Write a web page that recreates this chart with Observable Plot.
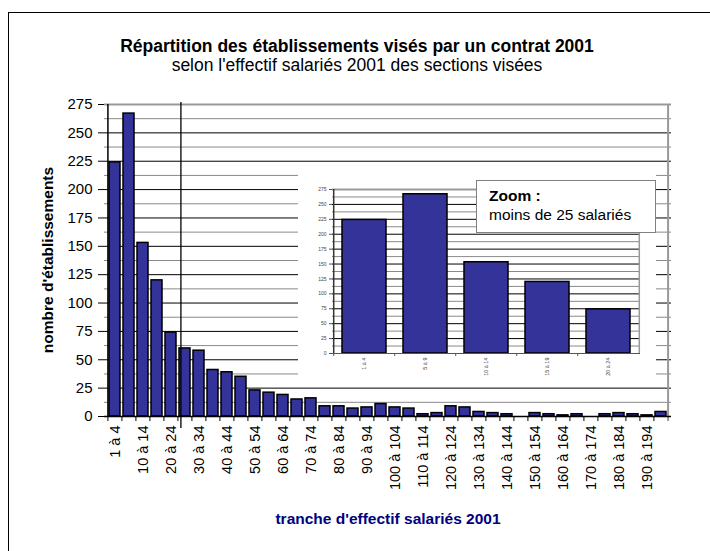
<!DOCTYPE html>
<html>
<head>
<meta charset="utf-8">
<script src="https://cdn.jsdelivr.net/npm/d3@7"></script>
<script src="https://cdn.jsdelivr.net/npm/@observablehq/plot@0.6"></script>
<style>
  html, body { margin: 0; padding: 0; background: #fff; }
  body { width: 710px; height: 551px; position: relative; overflow: hidden; font-family: "Liberation Sans", Arial, sans-serif; }
  #frame { position: absolute; left: 8px; top: 12px; width: 740px; height: 600px; border-left: 1.5px solid #000; border-top: 1.5px solid #000; }
  .title { position: absolute; left: 0; width: 714px; text-align: center; color: #000; white-space: nowrap; line-height: 20px; }
  #t1 { top: 36px; font-size: 17.5px; font-weight: bold; }
  #t2 { top: 55px; font-size: 17.5px; }
  #ytitle { position: absolute; left: 48px; top: 260px; transform: translate(-50%, -50%) rotate(-90deg); font-size: 15.5px; font-weight: bold; color: #000; white-space: nowrap; line-height: 18px; }
  #main { position: absolute; left: 0; top: 0; }
  #inset { position: absolute; left: 298px; top: 168px; }
  #callout { position: absolute; left: 476px; top: 180px; width: 166px; height: 46px; padding: 4.6px 0 0 12px; box-sizing: content-box; background: #fff; border: 1px solid #808080; font-size: 15.5px; line-height: 19.5px; color: #000; white-space: nowrap; }
</style>
</head>
<body>
<div id="frame"></div>
<div id="t1" class="title">Répartition des établissements visés par un contrat 2001</div>
<div id="t2" class="title">selon l'effectif salariés 2001 des sections visées</div>
<div id="main"></div>
<div id="ytitle">nombre d'établissements</div>
<div id="inset"></div>
<div id="callout"><b>Zoom :</b><br>moins de 25 salariés</div>
<script>
// ---- data ----
const categories = ["1 à 4","5 à 9","10 à 14","15 à 19","20 à 24","25 à 29","30 à 34","35 à 39","40 à 44","45 à 49",
  "50 à 54","55 à 59","60 à 64","65 à 69","70 à 74","75 à 79","80 à 84","85 à 89","90 à 94","95 à 99",
  "100 à 104","105 à 109","110 à 114","115 à 119","120 à 124","125 à 129","130 à 134","135 à 139","140 à 144","145 à 149",
  "150 à 154","155 à 159","160 à 164","165 à 169","170 à 174","175 à 179","180 à 184","185 à 189","190 à 194","195 à 199"];
const counts = [224,267,153,120,74,60,58,41,39,35,23,21,19,15,16,9,9,7,8,11,8,7,2,3,9,8,4,3,2,0,3,2,1,2,0,2,3,2,1,4];
const labeledCategories = ["1 à 4","10 à 14","20 à 24","30 à 34","40 à 44","50 à 54","60 à 64","70 à 74","80 à 84","90 à 94",
  "100 à 104","110 à 114","120 à 124","130 à 134","140 à 144","150 à 154","160 à 164","170 à 174","180 à 184","190 à 194"];
const majorTicks = [0,25,50,75,100,125,150,175,200,225,250,275];
const minorTicks = [12.5,37.5,62.5,87.5,112.5,137.5,162.5,187.5,212.5,237.5,262.5];
const zoomCategories = ["1 à 4","5 à 9","10 à 14","15 à 19","20 à 24"];
const zoomCounts = [224,267,153,120,74];
const separatorCategory = "25 à 29";
const xTitle = "tranche d'effectif salariés 2001";

const font = "'Liberation Sans', Arial, sans-serif";
const table = categories.map((c, i) => ({cat: c, n: counts[i]}));
const zoomTable = zoomCategories.map((c, i) => ({cat: c, n: zoomCounts[i]}));

// ---- main chart ----
const W = 710, H = 551, mL = 104, mR = 39, mT = 104, mB = 135;
const step = (W - mL - mR) / categories.length;
const pxPerUnit = (H - mT - mB) / 275;

const main = Plot.plot({
  width: W, height: H,
  marginLeft: mL, marginRight: mR, marginTop: mT, marginBottom: mB,
  style: {fontFamily: font, background: "transparent", color: "#000", overflow: "visible"},
  x: {domain: categories, paddingInner: 0.2, paddingOuter: 0.1},
  y: {domain: [0, 275]},
  marks: [
    Plot.ruleY(minorTicks, {stroke: "#8a8a8a", strokeWidth: 1}),
    Plot.ruleY(majorTicks.filter(v => v > 0 && v < 275), {stroke: "#000", strokeWidth: 1}),
    Plot.ruleY([275], {stroke: "#999", strokeWidth: 2}),
    Plot.ruleX([categories[categories.length - 1]], {dx: step / 2, y1: -5 / pxPerUnit, y2: 275, stroke: "#999", strokeWidth: 2}),
    Plot.barY(table, {x: "cat", y: "n", fill: "#333399", stroke: "#000", strokeWidth: 1.5}),
    Plot.ruleY([0], {stroke: "#000", strokeWidth: 1.5}),
    Plot.ruleX([categories[0]], {dx: -step / 2, y1: 0, y2: 275, stroke: "#000", strokeWidth: 1.5}),
    Plot.ruleX(categories, {dx: -step / 2, y1: 0, y2: -5 / pxPerUnit, stroke: "#000", strokeWidth: 1}),
    Plot.ruleX([separatorCategory], {dx: -step / 2 + 3, y1: -12 / pxPerUnit, y2: 275 + 2 / pxPerUnit, stroke: "#000", strokeWidth: 1.3}),
    Plot.axisY({ticks: majorTicks, tickSize: 6, tickPadding: 6, fontSize: 15, label: null, stroke: "#000"}),
    Plot.axisX({ticks: labeledCategories, tickSize: 0, tickPadding: 9, tickRotate: -90, fontSize: 14.5, label: null}),
    Plot.text([xTitle], {frameAnchor: "bottom", dy: 107, fontSize: 15.5, fontWeight: "bold", fill: "#000080"})
  ]
});
document.getElementById("main").appendChild(main);

// ---- inset (zoom) ----
const iW = 358, iH = 212, iL = 34, iR = 16, iT = 21, iB = 27;
const iStep = (iW - iL - iR) / zoomCategories.length;
const iPx = (iH - iT - iB) / 275;
const inset = Plot.plot({
  width: iW, height: iH,
  marginLeft: iL, marginRight: iR, marginTop: iT, marginBottom: iB,
  style: {fontFamily: font, background: "#fff", color: "#000", overflow: "visible"},
  x: {domain: zoomCategories, paddingInner: 0.28, paddingOuter: 0.14},
  y: {domain: [0, 275]},
  marks: [
    Plot.ruleY(minorTicks, {stroke: "#8a8a8a", strokeWidth: 1}),
    Plot.ruleY(majorTicks.filter(v => v > 0 && v < 275), {stroke: "#000", strokeWidth: 1}),
    Plot.ruleY([275], {stroke: "#999", strokeWidth: 2}),
    Plot.ruleX([zoomCategories[zoomCategories.length - 1]], {dx: iStep / 2, y1: 0, y2: 275, stroke: "#999", strokeWidth: 1.5}),
    Plot.barY(zoomTable, {x: "cat", y: "n", fill: "#333399", stroke: "#000", strokeWidth: 1.5}),
    Plot.ruleY([0], {stroke: "#555", strokeWidth: 1.2}),
    Plot.ruleX([zoomCategories[0]], {dx: -iStep / 2, y1: 0, y2: 275, stroke: "#333", strokeWidth: 1.5}),
    Plot.ruleX(zoomCategories, {dx: -iStep / 2, y1: 0, y2: -3 / iPx, stroke: "#555", strokeWidth: 1}),
    Plot.axisY({ticks: majorTicks, tickSize: 3, tickPadding: 3, fontSize: 5, label: null, stroke: "#555", fill: "#444"}),
    Plot.axisX({ticks: zoomCategories, tickSize: 0, tickPadding: 4, tickRotate: -90, fontSize: 5.5, label: null, fill: "#444"})
  ]
});
document.getElementById("inset").appendChild(inset);
</script>
</body>
</html>
